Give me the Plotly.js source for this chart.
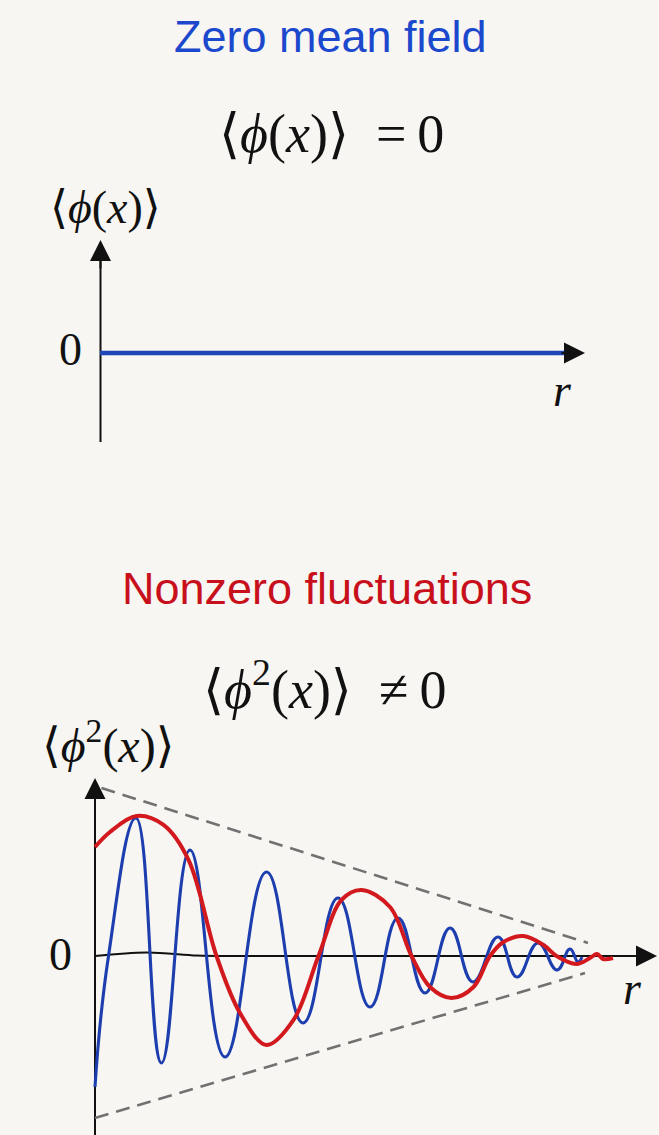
<!DOCTYPE html>
<html>
<head>
<meta charset="utf-8">
<script src="https://cdn.plot.ly/plotly-3.0.1.min.js"></script>
<style>
  html, body { margin: 0; padding: 0; background: #f7f6f2; }
  #chart { width: 659px; height: 1135px; }
</style>
</head>
<body>
<div id="chart"></div>
<script>
// ---- Upper panel: the mean field is zero everywhere ----
const rMean = [0, 9.55];
const phiMean = [0, 0];

// ---- Lower panel: the field itself oscillates (blue), turning points ----
const rField = [0, 0.27, 0.82, 1.33, 1.90, 2.60, 3.43, 4.16, 4.86, 5.50, 6.06, 6.60,
  7.10, 7.56, 8.06, 8.44, 8.86, 9.24, 9.50, 9.66, 9.74];
const phiField = [-1.31, 0, 1.38, -1.07, 1.06, -1.01, 0.84, -0.67, 0.58, -0.51, 0.38, -0.37,
  0.28, -0.26, 0.19, -0.21, 0.13, -0.14, 0.07, -0.06, -0.01];

// ---- Lower panel: the fluctuation amplitude (red) ----
const rFluct = [0, 0.30, 0.83, 1.37, 1.87, 2.43, 2.90, 3.43, 3.97, 4.47, 4.93, 5.33, 5.90,
  6.33, 6.70, 7.13, 7.57, 7.90, 8.17, 8.57, 8.97, 9.23, 9.63, 9.90, 10.04, 10.16, 10.36];
const phi2Fluct = [1.09, 1.24, 1.40, 1.31, 0.96, 0.0, -0.57, -0.89, -0.64, 0.0, 0.56, 0.66, 0.49,
  0.0, -0.31, -0.42, -0.31, 0.0, 0.14, 0.20, 0.11, 0.0, -0.08, -0.02, 0.02, -0.03, -0.02];

// ---- Lower panel: decaying envelope ----
const rEnvUpper = [0.13, 9.86];
const envUpper = [1.68, 0.13];
const rEnvLower = [0, 9.80];
const envLower = [-1.62, -0.17];

// first stretch of the r axis, which bulges slightly near the origin
const rBase = [0, 1.03, 2.03, 2.6];
const phiBase = [0, 0.035, 0.005, 0];

// axis extents: [start, arrow tip]
const upperXAxis = [0, 9.7];
const upperYAxis = [-0.89, 1.13];
const lowerXAxis = [2.6, 11.24];
const lowerYAxis = [-1.9, 1.78];

// ---- labels ----
const titleUpper = 'Zero mean field';
const titleLower = 'Nonzero fluctuations';
const formulaUpper = '\u27E8<i>\u03D5</i>(<i>x</i>)\u27E9\u2002=\u20090';
const formulaLower = '\u27E8<i>\u03D5</i><sup>2</sup>(<i>x</i>)\u27E9\u2002\u2260\u20090';
const yLabelUpper = '\u27E8<i>\u03D5</i>(<i>x</i>)\u27E9';
const yLabelLower = '\u27E8<i>\u03D5</i><sup>2</sup>(<i>x</i>)\u27E9';
const zeroTick = '0';
const xLabel = '<i>r</i>';

const W = 659, H = 1135;
const BG = '#f7f6f2';
const BLUE_TITLE = '#1b48cc';
const RED_TITLE = '#c8101c';
const BLUE = '#1d3eae';
const RED = '#d2191e';
const INK = '#111111';
const SERIF = 'Liberation Serif, DejaVu Serif, serif';
const SANS = 'Liberation Sans, Arial, sans-serif';

const px = x => x / W;
const py = y => 1 - y / H;

const traces = [
  { x: rMean, y: phiMean, xaxis: 'x', yaxis: 'y', mode: 'lines',
    line: { color: '#1f46b6', width: 4.5 } },
  { x: rEnvUpper, y: envUpper, xaxis: 'x2', yaxis: 'y2', mode: 'lines',
    line: { color: '#717171', width: 2.6, dash: '14px,8px' } },
  { x: rEnvLower, y: envLower, xaxis: 'x2', yaxis: 'y2', mode: 'lines',
    line: { color: '#717171', width: 2.6, dash: '14px,8px' } },
  { x: rBase, y: phiBase, xaxis: 'x2', yaxis: 'y2', mode: 'lines',
    line: { color: INK, width: 2, shape: 'spline' } },
  { x: rField, y: phiField, xaxis: 'x2', yaxis: 'y2', mode: 'lines',
    line: { color: BLUE, width: 3.1, shape: 'spline', smoothing: 1.3 } },
  { x: rFluct, y: phi2Fluct, xaxis: 'x2', yaxis: 'y2', mode: 'lines',
    line: { color: RED, width: 4, shape: 'spline', smoothing: 1 } }
];

function axisLine(xr, yr, x0, y0, x1, y1) {
  return { type: 'line', xref: xr, yref: yr, x0, y0, x1, y1, layer: 'below',
    line: { color: INK, width: 2 } };
}

function arrowHead(xr, yr, x, y, ax, ay) {
  return { xref: xr, yref: yr, axref: xr, ayref: yr, x, y, ax, ay, text: '',
    showarrow: true, arrowhead: 2, arrowsize: 2.1, arrowwidth: 2, arrowcolor: INK };
}

function label(text, x, y, size, color, family) {
  return { xref: 'paper', yref: 'paper', x: px(x), y: py(y), text, showarrow: false,
    xanchor: 'center', yanchor: 'middle', font: { size, color, family } };
}

const layout = {
  width: W, height: H,
  margin: { l: 0, r: 0, t: 0, b: 0 },
  paper_bgcolor: BG, plot_bgcolor: 'rgba(0,0,0,0)',
  showlegend: false,
  xaxis: { domain: [0, 1], range: [-2, 11.18], visible: false, fixedrange: true },
  yaxis: { domain: [0.5859, 0.8414], range: [-1.17, 1.73], visible: false, fixedrange: true },
  xaxis2: { domain: [0, 1], range: [-1.9, 11.28], visible: false, anchor: 'y2', fixedrange: true },
  yaxis2: { domain: [0, 0.3833], range: [-1.79, 2.56], visible: false, anchor: 'x2', fixedrange: true },
  shapes: [
    axisLine('x', 'y', 0.01, upperYAxis[0], 0.01, upperYAxis[1] - 0.2),
    axisLine('x2', 'y2', 0, lowerYAxis[0], 0, lowerYAxis[1] - 0.2),
    axisLine('x2', 'y2', lowerXAxis[0], 0, lowerXAxis[1] - 0.4, 0)
  ],
  annotations: [
    arrowHead('x', 'y', 0.01, upperYAxis[1], 0.01, upperYAxis[1] - 0.3),
    arrowHead('x', 'y', upperXAxis[1], 0, upperXAxis[1] - 0.5, 0),
    arrowHead('x2', 'y2', 0, lowerYAxis[1], 0, lowerYAxis[1] - 0.3),
    arrowHead('x2', 'y2', lowerXAxis[1], 0, lowerXAxis[1] - 0.5, 0),
    label(titleUpper, 330, 37, 45, BLUE_TITLE, SANS),
    label(formulaUpper, 331, 134, 54, INK, SERIF),
    label(yLabelUpper, 105, 207, 46, INK, SERIF),
    label(zeroTick, 70, 350, 46, INK, SERIF),
    label(xLabel, 562, 390, 46, INK, SERIF),
    label(titleLower, 327, 588, 45, RED_TITLE, SANS),
    label(formulaLower, 324, 685, 54, INK, SERIF),
    label(yLabelLower, 108, 742, 48, INK, SERIF),
    label(zeroTick, 60, 954, 46, INK, SERIF),
    label(xLabel, 632, 988, 46, INK, SERIF)
  ]
};

Plotly.newPlot('chart', traces, layout, { staticPlot: true, displayModeBar: false });
</script>
</body>
</html>
